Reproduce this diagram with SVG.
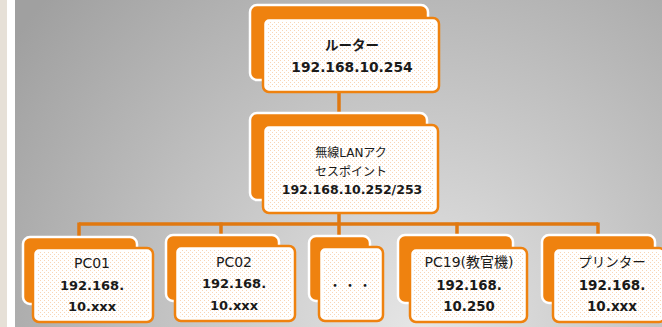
<svg xmlns="http://www.w3.org/2000/svg" width="662" height="327" viewBox="0 0 662 327">
<defs>
<radialGradient id="bg" gradientUnits="userSpaceOnUse" cx="420" cy="330" r="500">
<stop offset="0" stop-color="#e6e6e6"/>
<stop offset="1" stop-color="#a0a0a0"/>
</radialGradient>
<pattern id="dots" width="4" height="4" patternUnits="userSpaceOnUse">
<rect x="0" y="0" width="1" height="1" fill="#f2a35a" opacity="0.45"/>
<rect x="2" y="2" width="1" height="1" fill="#f2a35a" opacity="0.45"/>
</pattern>
<style>
.back{fill:#ef820f;stroke:#ffffff;stroke-width:2.5}
.front{fill:#ffffff;stroke:#ef820f;stroke-width:2.5}
.tex{fill:url(#dots)}
.conn{stroke:#e07810;stroke-width:3.5;fill:none}
.t{font-family:"DejaVu Sans","Noto Sans CJK JP",sans-serif;fill:#1a1a1a;text-anchor:middle}
.b{font-weight:bold}
</style>
</defs>
<rect x="0" y="0" width="662" height="327" fill="#ffffff"/>
<rect x="0" y="0" width="7" height="327" fill="#e6e0d7"/>
<rect x="15" y="0" width="647" height="327" fill="url(#bg)"/>

<g id="connectors">
<line class="conn" x1="339" y1="90" x2="339" y2="127"/>
<line class="conn" x1="339" y1="211" x2="339" y2="238"/>
<line class="conn" x1="79" y1="224" x2="598" y2="224"/>
<line class="conn" x1="79" y1="222.5" x2="79" y2="238"/>
<line class="conn" x1="221" y1="222.5" x2="221" y2="236"/>
<line class="conn" x1="457" y1="222.5" x2="457" y2="237"/>
<line class="conn" x1="598" y1="222.5" x2="598" y2="237"/>
</g>

<g id="router">
<rect class="back" x="250" y="5" width="178" height="75" rx="7"/>
<rect class="front" x="263" y="18" width="176" height="74" rx="6"/>
<rect class="tex" x="267" y="22" width="168" height="66" rx="3"/>
<text class="t b" x="352" y="50" font-size="13.5">ルーター</text>
<text class="t b" x="352" y="72" font-size="13.8">192.168.10.254</text>
</g>

<g id="ap">
<rect class="back" x="250" y="113" width="177" height="87" rx="7"/>
<rect class="front" x="263" y="125" width="175" height="88" rx="6"/>
<rect class="tex" x="267" y="129" width="167" height="80" rx="3"/>
<text class="t" x="351" y="156.5" font-size="12">無線LANアク</text>
<text class="t" x="351" y="175.5" font-size="12">セスポイント</text>
<text class="t b" x="352" y="194" font-size="12.5">192.168.10.252/253</text>
</g>

<g id="pc01">
<rect class="back" x="23" y="237" width="114" height="67" rx="7"/>
<rect class="front" x="33" y="248" width="120" height="74" rx="6"/>
<rect class="tex" x="37" y="252" width="112" height="66" rx="3"/>
<text class="t" x="92" y="268" font-size="14">PC01</text>
<text class="t b" x="92" y="290" font-size="13">192.168.</text>
<text class="t b" x="92" y="311" font-size="13">10.xxx</text>
</g>

<g id="pc02">
<rect class="back" x="166" y="235" width="113" height="66" rx="7"/>
<rect class="front" x="175" y="246" width="120" height="75" rx="6"/>
<rect class="tex" x="179" y="250" width="112" height="67" rx="3"/>
<text class="t" x="234" y="267" font-size="14">PC02</text>
<text class="t b" x="234" y="288" font-size="13">192.168.</text>
<text class="t b" x="234" y="310" font-size="13">10.xxx</text>
</g>

<g id="dots-node">
<rect class="back" x="309" y="236" width="61" height="65" rx="7"/>
<rect class="front" x="319" y="247" width="64" height="74" rx="6"/>
<rect class="tex" x="323" y="251" width="56" height="66" rx="3"/>
<text class="t" x="351" y="290" font-size="13" letter-spacing="2">・・・</text>
</g>

<g id="pc19">
<rect class="back" x="398" y="235" width="115" height="68" rx="7"/>
<rect class="front" x="410" y="248" width="117" height="74" rx="6"/>
<rect class="tex" x="414" y="252" width="109" height="66" rx="3"/>
<text class="t" x="469" y="267" font-size="14">PC19(教官機)</text>
<text class="t b" x="469" y="290" font-size="13.3">192.168.</text>
<text class="t b" x="469" y="311" font-size="13.3">10.250</text>
</g>

<g id="printer">
<rect class="back" x="542" y="235" width="113" height="68" rx="7"/>
<rect class="front" x="553" y="248" width="112" height="74" rx="6"/>
<rect class="tex" x="557" y="252" width="104" height="66" rx="3"/>
<text class="t" x="612" y="267" font-size="13.5">プリンター</text>
<text class="t b" x="612" y="290" font-size="13.5">192.168.</text>
<text class="t b" x="612" y="311" font-size="13.5">10.xxx</text>
</g>
</svg>
